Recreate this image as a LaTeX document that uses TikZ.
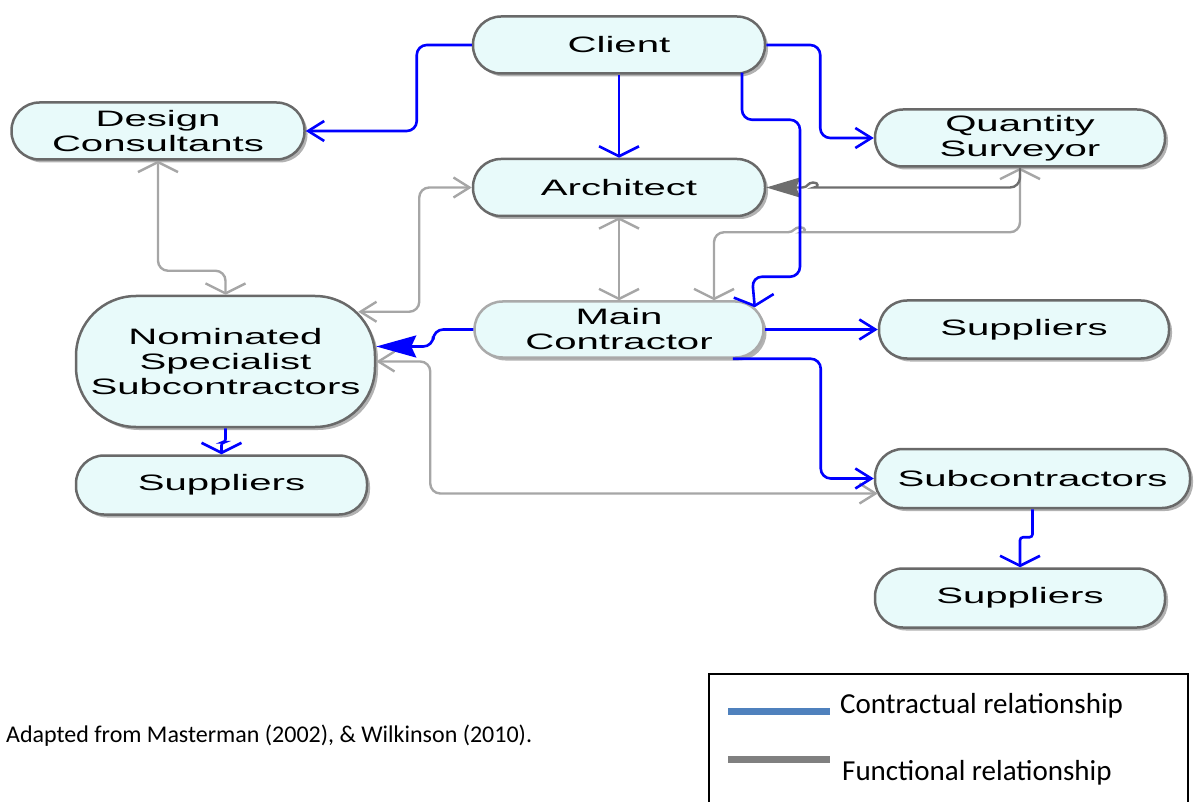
\documentclass[tikz,border=0pt]{standalone}
\usepackage{fontspec}
\newfontfamily\boxfont[FakeStretch=1.8]{Liberation Sans}
\newfontfamily\notefont{Carlito}
\usetikzlibrary{arrows.meta,positioning,calc,shadows}

\definecolor{cblue}{RGB}{0,0,255}
\definecolor{fgray}{RGB}{166,166,166}
\definecolor{fdark}{RGB}{110,110,110}
\definecolor{boxline}{RGB}{105,105,105}
\definecolor{boxfill}{RGB}{232,250,250}
\definecolor{mcline}{RGB}{170,170,170}
\definecolor{legblue}{RGB}{79,129,189}
\definecolor{leggray}{RGB}{128,128,128}

\begin{document}
\begin{tikzpicture}[x=1pt,y=-1pt,node distance=83pt and 113pt,
    vtip/.tip={Straight Barb[length=10pt,width=40pt]},
    htip/.tip={Straight Barb[length=16pt,width=20pt]},
    bigtip/.tip={Stealth[length=40pt,width=22pt,inset=5pt]},
    darktip/.tip={Stealth[length=34pt,width=20pt,inset=4pt]},
    role/.style={draw=boxline,line width=2.5pt,fill=boxfill,rounded corners=28pt,
      minimum width=292pt,minimum height=57pt,inner sep=0pt,align=center,
      font=\boxfont\fontsize{22.3}{25}\selectfont,
      drop shadow={shadow xshift=3pt,shadow yshift=-3pt,fill=black!30,opacity=1}},
    contract/.style={draw=cblue,line width=2.6pt,rounded corners=10pt},
    functional/.style={draw=fgray,line width=2.4pt,rounded corners=10pt},
    legtext/.style={inner sep=0pt,anchor=base west,font=\notefont\fontsize{29}{32}\selectfont}]

\useasboundingbox (0,0) rectangle (1194,802);

\node [role] (client) at (619,45) {Client};
\node [role] (architect) [below=of client] {Architect};
\node [role,draw=mcline,minimum width=289pt,minimum height=56pt] (maincon) [below=of architect] {Main\\Contractor};

\node [role,minimum width=293pt] (design) at (158,131) {Design\\Consultants};
\node [role,minimum width=290pt] (qs) at (1020,138) {Quantity\\Surveyor};

\node [role,minimum width=299pt,minimum height=131pt,rounded corners=60pt] (nss) at (225.5,361.5)
    {Nominated\\Specialist\\Subcontractors};
\node [role,minimum width=291pt,minimum height=59pt] (sup1) [below=26pt of nss, xshift=-4pt] {Suppliers};

\node [role,minimum width=290pt,minimum height=58pt] (sup2) [right=of maincon] {Suppliers};
\node [role,minimum width=315pt,minimum height=59pt] (subcon) at (1032.5,478.5) {Subcontractors};
\node [role,minimum width=290pt,minimum height=59pt] (sup3) [below=58pt of subcon, xshift=-12.5pt] {Suppliers};

% functional links
\draw [functional,vtip-vtip] (design.south) -- ++(0,110) -| (nss.north);
\draw [functional,htip-htip] ($(nss.north east)+(-18,17)$) -- ++(61,0) |- (architect.west);
\draw [functional,vtip-vtip] (architect) -- (maincon);
\draw [functional,htip-htip] (nss.east) -- ++(54,0) |- ($(subcon.west)+(4,15)$);
\draw [functional,vtip-vtip] (qs.south) |- ($(maincon.north)+(193,-68)$) [sharp corners]
    .. controls ++(-6,0) and ++(6,0) .. ++(-12,-5)
    .. controls ++(-6,0) and ++(6,0) .. ++(-12,5) [rounded corners=10pt]
    -| ($(maincon.north)+(95,0)$);
\draw [functional,draw=fdark,-{darktip[fill=fdark]}] (qs.south) |- ($(architect.east)+(58,0)$) [sharp corners]
    .. controls ($(architect.east)+(52,0)$) and ($(architect.east)+(53,-5)$) .. ($(architect.east)+(47,-5)$)
    .. controls ($(architect.east)+(41,-5)$) and ($(architect.east)+(42,0)$) .. ($(architect.east)+(36,0)$)
    -- (architect.east);

% contractual links
\draw [contract,-htip] (client.west) -- ++(-55,0) |- (design.east);
\draw [contract,-vtip] (client) -- (architect);
\draw [contract,-htip] (client.east) -- ++(54,0) |- (qs.west);
\draw [contract,-vtip] ($(client.south)+(123,-2)$) -- ++(0,47) -- ++(58,0) -- ++(0,157)
    -- ++(-48,0) -- ($(maincon.north east)+(-10,7)$);
\draw [contract,-{bigtip[fill=cblue]}] (maincon.west) -- ++(-40,0) |- ($(nss.east)+(0,-15)$);
\draw [contract,-htip] (maincon.east) -- (sup2.west);
\draw [contract,-htip] ($(maincon.south east)+(-32,0)$) -- ++(88,0) |- (subcon.west);
\draw [contract,-vtip,rounded corners=3pt] (nss.south) -- ++(0,14) -| (sup1.north);
\draw [contract,-vtip,rounded corners=3pt] (subcon.south) -- ++(0,28) -| (sup3.north);

% legend
\draw [line width=1.5pt] (709,674) rectangle (1188,812);
\draw [legblue,line width=7pt] (728,711) -- (830,711);
\draw [leggray,line width=7pt] (728,759.5) -- (830,759.5);
\node [legtext] (legc) at (840,713) {Contractual relationship};
\node [legtext] (legf) at (842,780) {Functional relationship};

\node [inner sep=0pt,anchor=base west,font=\notefont\fontsize{24}{28}\selectfont] (source) at (6,742)
    {Adapted from Masterman (2002), \& Wilkinson (2010).};

\end{tikzpicture}
\end{document}
